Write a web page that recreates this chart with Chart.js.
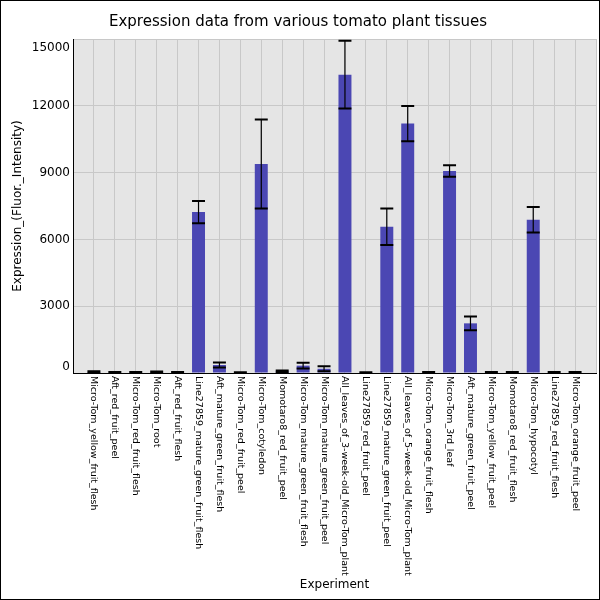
<!DOCTYPE html>
<html>
<head>
<meta charset="utf-8">
<title>Expression data from various tomato plant tissues</title>
<script src="https://cdn.jsdelivr.net/npm/chart.js@4"></script>
<style>
  body { margin: 0; background: #fff; }
  canvas { display: block; }
</style>
</head>
<body>
<canvas id="exprChart" width="600" height="600"></canvas>
<script>
// data
const experiments = [
  'Micro-Tom_yellow_fruit_flesh',
  'Aft_red_fruit_peel',
  'Micro-Tom_red_fruit_flesh',
  'Micro-Tom_root',
  'Aft_red_fruit_flesh',
  'Line27859_mature_green_fruit_flesh',
  'Aft_mature_green_fruit_flesh',
  'Micro-Tom_red_fruit_peel',
  'Micro-Tom_cotyledon',
  'Momotaro8_red_fruit_peel',
  'Micro-Tom_mature_green_fruit_flesh',
  'Micro-Tom_mature_green_fruit_peel',
  'All_leaves_of_3-week-old_Micro-Tom_plant',
  'Line27859_red_fruit_peel',
  'Line27859_mature_green_fruit_peel',
  'All_leaves_of_5-week-old_Micro-Tom_plant',
  'Micro-Tom_orange_fruit_flesh',
  'Micro-Tom_3rd_leaf',
  'Aft_mature_green_fruit_peel',
  'Micro-Tom_yellow_fruit_peel',
  'Momotaro8_red_fruit_flesh',
  'Micro-Tom_hypocotyl',
  'Line27859_red_fruit_flesh',
  'Micro-Tom_orange_fruit_peel'
];
const expression = [40, 25, 25, 35, 25, 7230, 360, 15, 9390, 70, 330, 190,
  13400, 15, 6570, 11200, 20, 9070, 2230, 20, 20, 6880, 20, 20];
const stdErr = [40, 25, 25, 30, 25, 500, 110, 15, 2000, 40, 130, 110,
  1520, 15, 820, 790, 20, 255, 310, 20, 20, 575, 20, 20];
const yTicks = [0, 3000, 6000, 9000, 12000, 15000];

Chart.defaults.font.family = "'DejaVu Sans', sans-serif";
Chart.defaults.color = '#000';

// background, error bars, rotated labels and frame
const plotExtras = {
  id: 'plotExtras',
  beforeDraw(chart) {
    const { ctx, chartArea: a } = chart;
    ctx.save();
    ctx.fillStyle = '#fff';
    ctx.fillRect(0, 0, chart.width, chart.height);
    ctx.fillStyle = '#e5e5e5';
    ctx.fillRect(a.left, a.top, a.right - a.left, a.bottom - a.top);
    ctx.restore();
  },
  afterDatasetsDraw(chart) {
    const { ctx, chartArea: a, scales: { x, y } } = chart;
    const bars = chart.getDatasetMeta(0).data;
    ctx.save();
    ctx.beginPath();
    ctx.rect(a.left, a.top - 4, a.right - a.left, a.bottom - a.top + 4);
    ctx.clip();
    ctx.strokeStyle = '#000';
    expression.forEach((v, i) => {
      const px = x.getPixelForValue(i + 1);
      const half = bars[i].width / 2;
      const top = y.getPixelForValue(v + stdErr[i]);
      const bot = y.getPixelForValue(v - stdErr[i]);
      ctx.lineWidth = 1.2;
      ctx.beginPath();
      ctx.moveTo(px, top);
      ctx.lineTo(px, bot);
      ctx.stroke();
      ctx.lineWidth = 2;
      ctx.beginPath();
      ctx.moveTo(px - half, top);
      ctx.lineTo(px + half, top);
      ctx.moveTo(px - half, bot);
      ctx.lineTo(px + half, bot);
      ctx.stroke();
    });
    ctx.restore();
  },
  afterDraw(chart) {
    const { ctx, chartArea: a, scales: { x, y } } = chart;
    ctx.save();
    ctx.fillStyle = '#000';
    // x labels, read top to bottom
    ctx.font = "9.5px 'DejaVu Sans'";
    ctx.textAlign = 'left';
    ctx.textBaseline = 'middle';
    experiments.forEach((name, i) => {
      ctx.save();
      ctx.translate(x.getPixelForValue(i + 1), a.bottom + 3);
      ctx.rotate(Math.PI / 2);
      ctx.fillText(name, 0, 0);
      ctx.restore();
    });
    // y labels, end ones kept inside the plot
    ctx.font = "12px 'DejaVu Sans'";
    ctx.textAlign = 'right';
    yTicks.forEach(t => {
      let py = y.getPixelForValue(t);
      py = Math.min(Math.max(py, a.top + 9), a.bottom - 6);
      ctx.fillText(String(t), a.left - 3, py);
    });
    ctx.strokeStyle = '#000';
    ctx.lineWidth = 1;
    ctx.strokeRect(0.5, 0.5, chart.width - 1, chart.height - 1);
    ctx.restore();
  }
};

new Chart(document.getElementById('exprChart'), {
  type: 'bar',
  data: {
    datasets: [{
      label: 'Expression',
      data: expression.map((v, i) => ({ x: i + 1, y: v })),
      backgroundColor: '#4b47b3',
      borderWidth: 0,
      barPercentage: 0.62,
      categoryPercentage: 1
    }]
  },
  options: {
    responsive: false,
    animation: false,
    layout: { padding: { left: 0, right: 4, top: 0, bottom: 0 } },
    plugins: {
      legend: { display: false },
      tooltip: { enabled: false },
      title: {
        display: true,
        text: 'Expression data from various tomato plant tissues',
        font: { size: 15, weight: 'normal' },
        padding: { top: 13, bottom: 8 }
      }
    },
    scales: {
      x: {
        type: 'linear',
        offset: false,
        min: 0,
        max: experiments.length + 1,
        ticks: { display: false, stepSize: 1 },
        grid: { color: '#c8c8c8', drawTicks: false, offset: false },
        border: { color: '#000', width: 1 },
        title: {
          display: true,
          text: 'Experiment',
          font: { size: 12 },
          padding: { top: 0, bottom: 8 }
        },
        afterFit(scale) { scale.height = 227; }
      },
      y: {
        min: 0,
        max: 15000,
        afterBuildTicks(scale) { scale.ticks = yTicks.map(v => ({ value: v })); },
        ticks: { display: false },
        grid: { color: '#c8c8c8', drawTicks: false },
        border: { color: '#000', width: 1 },
        title: {
          display: true,
          text: 'Expression_(Fluor._Intensity)',
          font: { size: 12 },
          padding: { top: 11, bottom: 0 }
        },
        afterFit(scale) { scale.width = 73; }
      }
    }
  },
  plugins: [plotExtras]
});
</script>
</body>
</html>
